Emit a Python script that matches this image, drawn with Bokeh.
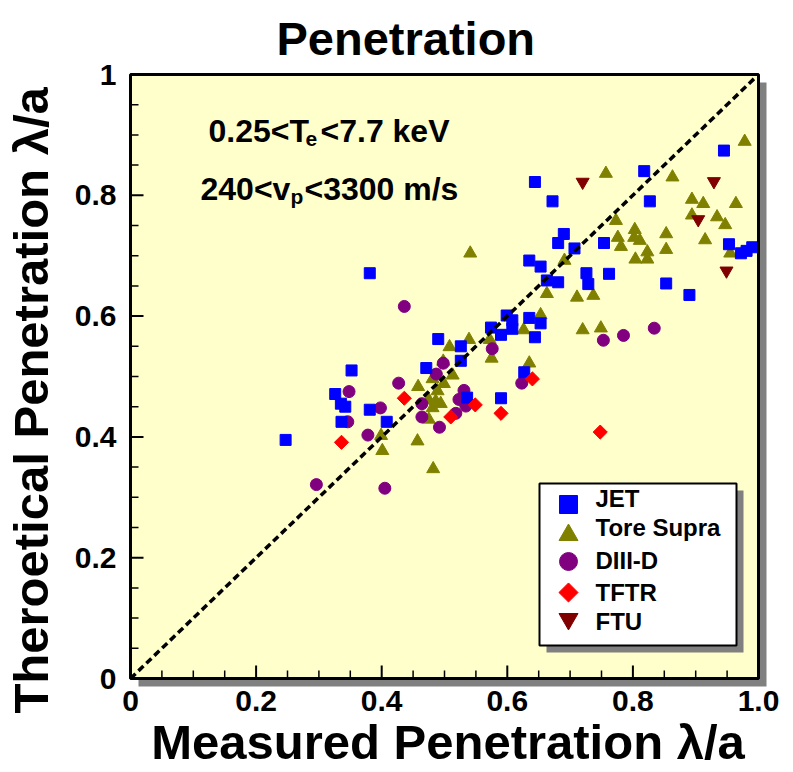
import numpy as np
from bokeh.plotting import figure
from bokeh.models import Range1d, FixedTicker
from bokeh.core.properties import value
from bokeh.embed import file_html
from bokeh.resources import INLINE

# ---------------- data ----------------
jet_x = [0.247, 0.326, 0.335, 0.342, 0.336, 0.352, 0.381, 0.408, 0.381, 0.471,
         0.490, 0.526, 0.526, 0.536, 0.590, 0.574, 0.590, 0.599, 0.608, 0.608,
         0.635, 0.653, 0.644, 0.627, 0.635, 0.653, 0.663, 0.681, 0.690, 0.681,
         0.707, 0.754, 0.726, 0.729, 0.762, 0.644, 0.672, 0.818, 0.827, 0.945,
         0.853, 0.890, 0.953, 0.972, 0.981, 0.990]
jet_y = [0.395, 0.471, 0.455, 0.450, 0.425, 0.510, 0.445, 0.425, 0.671, 0.514,
         0.562, 0.550, 0.526, 0.465, 0.464, 0.581, 0.569, 0.601, 0.593, 0.579,
         0.597, 0.588, 0.565, 0.507, 0.692, 0.682, 0.659, 0.656, 0.736, 0.721,
         0.712, 0.721, 0.671, 0.653, 0.670, 0.822, 0.790, 0.840, 0.790, 0.874,
         0.654, 0.635, 0.719, 0.704, 0.708, 0.714]

tore_x = [0.541, 0.757, 0.863, 0.978, 0.894, 0.912, 0.964, 0.894, 0.934, 0.947,
          0.773, 0.803, 0.802, 0.811, 0.776, 0.781, 0.853, 0.853, 0.823, 0.823,
          0.804, 0.915, 0.955, 0.691, 0.663, 0.711, 0.737, 0.653, 0.626, 0.720,
          0.749, 0.635, 0.539, 0.572, 0.575, 0.508, 0.498, 0.513, 0.481, 0.458,
          0.499, 0.489, 0.475, 0.486, 0.494, 0.481, 0.475, 0.399, 0.401, 0.457,
          0.482]
tore_y = [0.704, 0.836, 0.830, 0.889, 0.793, 0.786, 0.786, 0.767, 0.764, 0.751,
          0.758, 0.743, 0.730, 0.725, 0.730, 0.715, 0.736, 0.710, 0.706, 0.694,
          0.694, 0.726, 0.704, 0.692, 0.637, 0.631, 0.634, 0.602, 0.577, 0.577,
          0.580, 0.522, 0.561, 0.561, 0.530, 0.549, 0.525, 0.502, 0.496, 0.483,
          0.488, 0.476, 0.461, 0.459, 0.455, 0.448, 0.429, 0.402, 0.377, 0.393,
          0.347]

diiid_x = [0.436, 0.576, 0.487, 0.427, 0.348, 0.531, 0.523, 0.534, 0.518, 0.398,
           0.464, 0.464, 0.492, 0.346, 0.378, 0.296, 0.405, 0.753, 0.785, 0.834,
           0.623, 0.498]
diiid_y = [0.616, 0.546, 0.504, 0.489, 0.475, 0.477, 0.462, 0.451, 0.439, 0.448,
           0.455, 0.433, 0.416, 0.425, 0.403, 0.321, 0.315, 0.560, 0.568, 0.580,
           0.489, 0.522]

tftr_x = [0.436, 0.549, 0.510, 0.590, 0.336, 0.640, 0.748]
tftr_y = [0.464, 0.453, 0.433, 0.439, 0.391, 0.496, 0.408]

ftu_x = [0.720, 0.929, 0.904, 0.949]
ftu_y = [0.822, 0.823, 0.760, 0.675]

diag = [0.0, 1.0]

x_tick_values = [0, 0.2, 0.4, 0.6, 0.8, 1]
x_tick_labels = ["0", "0.2", "0.4", "0.6", "0.8", "1.0"]
y_tick_values = [0, 0.2, 0.4, 0.6, 0.8, 1]
y_tick_labels = ["0", "0.2", "0.4", "0.6", "0.8", "1"]
minor_tick_values = [round(i * 0.05, 2) for i in range(21)]

legend_labels = ["JET", "Tore Supra", "DIII-D", "TFTR", "FTU"]

# ---------------- layout helpers ----------------
FONT = "Liberation Sans"
UX = 628.0   # pixels per data unit (x)
UY = 604.0   # pixels per data unit (y)
X0PX, Y0PX = 128.0, 678.0   # page position of data origin


def dx(px):
    return px / UX


def dy(px):
    return px / UY


def gx(px):  # page x -> data x
    return (px - X0PX) / UX


def gy(py):  # page y -> data y
    return (Y0PX - py) / UY


p = figure(frame_width=639, frame_height=615,
           x_range=Range1d(-dx(2), 1 + dx(9)), y_range=Range1d(-dy(9), 1 + dy(2)),
           min_border_left=126, min_border_right=28, min_border_top=72,
           min_border_bottom=85,
           output_backend="svg", toolbar_location=None, title="Penetration",
           background_fill_color="white", border_fill_color="white",
           outline_line_color=None)
p.grid.visible = False

p.title.text_font = FONT
p.title.text_font_size = "47px"
p.title.text_font_style = "bold"
p.title.text_color = "black"
p.title.align = "left"
p.title.offset = 148
p.title.standoff = 16

for ax, ticks, labels in ((p.xaxis[0], x_tick_values, x_tick_labels),
                          (p.yaxis[0], y_tick_values, y_tick_labels)):
    ax.ticker = FixedTicker(ticks=ticks, minor_ticks=minor_tick_values)
    ax.major_label_overrides = {v: s for v, s in zip(ticks, labels)}
    ax.axis_line_color = None
    ax.major_tick_line_color = None
    ax.minor_tick_line_color = None
    ax.major_tick_in = 0
    ax.major_tick_out = 0
    ax.minor_tick_in = 0
    ax.minor_tick_out = 0
    ax.major_label_text_font = FONT
    ax.major_label_text_font_size = "30px"
    ax.major_label_text_font_style = "bold"
    ax.major_label_text_color = "black"
    ax.axis_label_text_font = FONT
    ax.axis_label_text_font_size = "49px"
    ax.axis_label_text_font_style = "bold"
    ax.axis_label_text_color = "black"

p.xaxis[0].major_label_standoff = 3
p.yaxis[0].major_label_standoff = 12
p.xaxis[0].axis_label = "Measured Penetration λ/a"
p.xaxis[0].axis_label_standoff = 1
p.yaxis[0].axis_label = "Theroetical Penetration λ/a\u00a0\u00a0\u00a0"
p.yaxis[0].axis_label_standoff = 14

# plot panel with drop shadow
p.quad(left=[dx(8)], right=[1 + dx(8)], bottom=[-dy(8)], top=[1 - dy(8)],
       fill_color="#808080", line_color=None)
p.quad(left=[0], right=[1], bottom=[0], top=[1],
       fill_color="#FFFFCC", line_color=None)

# inward ticks on the bottom and left edges of the panel (dash markers)
major_x = [v for v in minor_tick_values if v in x_tick_values]
minor_x = [v for v in minor_tick_values if v not in x_tick_values]
major_y = [v for v in minor_tick_values if v in y_tick_values]
minor_y = [v for v in minor_tick_values if v not in y_tick_values]
p.scatter(major_x, [dy(6.5)] * len(major_x), marker="dash", size=13,
          angle=np.pi / 2, line_color="black", line_width=2)
p.scatter(minor_x, [dy(4)] * len(minor_x), marker="dash", size=8,
          angle=np.pi / 2, line_color="black", line_width=1.5)
p.scatter([dx(6.5)] * len(major_y), major_y, marker="dash", size=13,
          line_color="black", line_width=2)
p.scatter([dx(4)] * len(minor_y), minor_y, marker="dash", size=8,
          line_color="black", line_width=1.5)

# data
p.scatter(tore_x, tore_y, marker="triangle", size=13,
          fill_color="#808000", line_color="#808000")
p.scatter(diiid_x, diiid_y, marker="circle", size=12,
          fill_color="#800080", line_color="#800080")
p.scatter(jet_x, jet_y, marker="square", size=11,
          fill_color="#0000FF", line_color="#0000FF")
p.scatter(tftr_x, tftr_y, marker="square", angle=np.pi / 4, size=10,
          fill_color="#FF0000", line_color="#FF0000")
p.scatter(ftu_x, ftu_y, marker="inverted_triangle", size=13,
          fill_color="#800000", line_color="#800000")

p.line(diag, diag, line_color="black", line_width=3.5, line_dash="7 4")

# frame
p.quad(left=[0], right=[1], bottom=[0], top=[1],
       fill_color=None, line_color="black", line_width=3)


# annotation text with subscripts
def txt(x, y, s, size, xo=0, yo=0):
    p.text(x=[x], y=[y], text=[s], x_offset=xo, y_offset=yo,
           text_font=value(FONT), text_font_style="bold",
           text_font_size=size, text_color="black",
           text_align="left", text_baseline="alphabetic")


ax1, ay1 = gx(206), gy(130)
txt(ax1, ay1, "0.25<T", "32px")
txt(ax1, ay1, "e", "21px", xo=97, yo=8)
txt(ax1, ay1, "<7.7 keV", "32px", xo=112)

ax2, ay2 = gx(198), gy(188)
txt(ax2, ay2, "240<v", "32px")
txt(ax2, ay2, "p", "21px", xo=90, yo=8)
txt(ax2, ay2, "<3300 m/s", "32px", xo=104)

# legend box
L, R, T, B = 537, 734, 483, 645
p.quad(left=[gx(L + 7)], right=[gx(R + 7)], top=[gy(T + 7)], bottom=[gy(B + 7)],
       fill_color="#808080", line_color=None)
p.quad(left=[gx(L)], right=[gx(R)], top=[gy(T)], bottom=[gy(B)],
       fill_color="white", line_color="black", line_width=2)

sw_x = gx(566)
sw_rows = [504, 534.5, 561, 592, 618.5]
txt_rows = [498, 527, 560, 592, 621]
sw_styles = [("square", 18, 0, "#0000FF"),
             ("triangle", 19, 0, "#808000"),
             ("circle", 18, 0, "#800080"),
             ("square", 13.5, np.pi / 4, "#FF0000"),
             ("inverted_triangle", 19, 0, "#800000")]
for (mk, sz, ang, col), ry, ty, lab in zip(sw_styles, sw_rows, txt_rows, legend_labels):
    p.scatter([sw_x], [gy(ry)], marker=mk, size=sz, angle=ang,
              fill_color=col, line_color=col)
    p.text(x=[gx(593)], y=[gy(ty)], text=[lab], text_font=value(FONT),
           text_font_style="bold", text_font_size="24px", text_color="black",
           text_align="left", text_baseline="middle")

open("out.html", "w").write(file_html(p, INLINE))
